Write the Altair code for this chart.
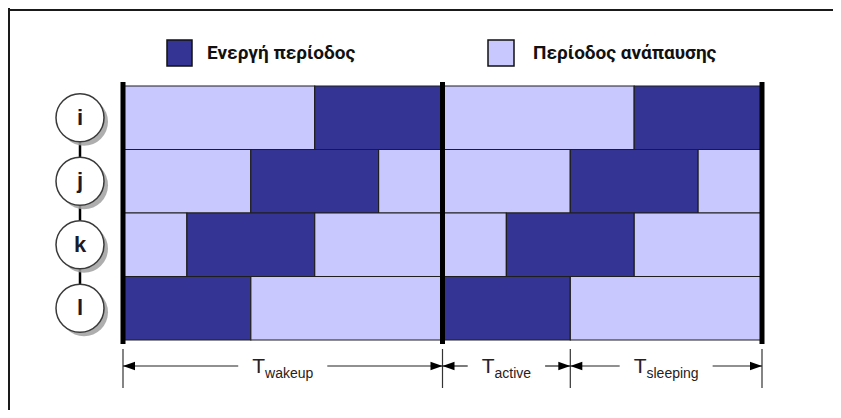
import altair as alt
import pandas as pd

# ---------------- data ----------------
rows = ["i", "j", "k", "l"]
row_states = [["rest", "active"], ["rest", "active", "rest"], ["rest", "active", "rest"], ["active", "rest"]]
row_durations = [[3, 2], [2, 2, 1], [1, 2, 2], [2, 3]]
n_periods = 2
period_len = 5

legend_states = ["active", "rest"]
legend_labels = ["Ενεργή περίοδος", "Περίοδος ανάπαυσης"]

dim_main = ["T", "T", "T"]
dim_sub = ["wakeup", "active", "sleeping"]
dim_bounds = [0, 5, 7, 10]

state_domain = ["active", "rest"]
state_colors = ["#343494", "#c8c8fe"]

# ---------------- layout ----------------
W, H = 825, 402
X_ORIGIN, UX = 115.0, 63.9   # chart px of unit 0, px per unit
Y_ORIGIN, UY = 78.0, 63.5

def ux(page_x):
    return (page_x - 8 - X_ORIGIN) / UX

def uy(page_y):
    return (page_y - 8 - Y_ORIGIN) / UY

x_scale = alt.Scale(domain=[-X_ORIGIN / UX, (W - X_ORIGIN) / UX], nice=False, zero=False)
y_scale = alt.Scale(domain=[-Y_ORIGIN / UY, (H - Y_ORIGIN) / UY], nice=False, zero=False, reverse=True)

def X(f):
    return alt.X(f, type="quantitative", scale=x_scale, axis=None, stack=None)

def X2(f):
    return alt.X2(f)

def Y(f):
    return alt.Y(f, type="quantitative", scale=y_scale, axis=None, stack=None)

def Y2(f):
    return alt.Y2(f)

color = alt.Color("state:N", scale=alt.Scale(domain=state_domain, range=state_colors), legend=None)

# segments
seg = []
for r, (name, sts, durs) in enumerate(zip(rows, row_states, row_durations)):
    for p in range(n_periods):
        t = p * period_len
        for s, d in zip(sts, durs):
            seg.append(dict(node=name, state=s, xa=t, xb=t + d, ya=r, yb=r + 1))
            t += d
seg_df = pd.DataFrame(seg)

segments = alt.Chart(seg_df).mark_rect(stroke="#1e1e1e", strokeWidth=1.2).encode(
    x=X("xa"), x2=X2("xb"), y=Y("ya"), y2=Y2("yb"), color=color
)

# thick separators
sep_df = pd.DataFrame(dict(xp=[p * period_len for p in range(n_periods + 1)],
                           ya=[-4 / UY] * (n_periods + 1),
                           yb=[len(rows) + 4 / UY] * (n_periods + 1)))
seps = alt.Chart(sep_df).mark_rule(color="black", strokeWidth=5).encode(
    x=X("xp"), y=Y("ya"), y2=Y2("yb")
)

# node circles
cx = ux(80)
node_df = pd.DataFrame(dict(name=rows, xp=[cx] * len(rows), yp=[r + 0.5 for r in range(len(rows))]))
node_df["xs"] = node_df["xp"] + 4 / UX
node_df["ys"] = node_df["yp"] + 4 / UY

conn_df = pd.DataFrame(dict(xp=[cx], ya=[0.5], yb=[len(rows) - 0.5]))
connector = alt.Chart(conn_df).mark_rule(color="black", strokeWidth=2.5).encode(
    x=X("xp"), y=Y("ya"), y2=Y2("yb")
)
shadows = alt.Chart(node_df).mark_circle(size=2304, color="#a0a0a0", opacity=0.85).encode(
    x=X("xs"), y=Y("ys")
)
circles = alt.Chart(node_df).mark_circle(size=2304, color="white", opacity=1, stroke="#3a3a3a", strokeWidth=1.5).encode(
    x=X("xp"), y=Y("yp")
)
letters = alt.Chart(node_df).mark_text(font="Liberation Sans", fontWeight="bold", fontSize=22,
                                       color="#1a1a2a", baseline="middle", align="center").encode(
    x=X("xp"), y=Y("yp"), text="name:N"
)

# custom legend
leg_df = pd.DataFrame(dict(
    state=legend_states, label=legend_labels,
    xa=[ux(167), ux(488)], xb=[ux(192), ux(514)],
    tx=[ux(207), ux(533)],
    ya=[uy(40)] * 2, yb=[uy(66)] * 2, ty=[uy(53)] * 2,
))
leg_rects = alt.Chart(leg_df).mark_rect(stroke="#111", strokeWidth=1.5).encode(
    x=X("xa"), x2=X2("xb"), y=Y("ya"), y2=Y2("yb"), color=color
)
leg_text = alt.Chart(leg_df).mark_text(font="Roboto", fontWeight="bold", fontSize=19, color="#111",
                                       align="left", baseline="middle").encode(
    x=X("tx"), y=Y("ty"), text="label:N"
)

# dimension lines
arial = dict(a=.556, c=.5, e=.556, g=.556, i=.222, k=.5, l=.222, n=.556, p=.556, s=.5, t=.278,
             u=.556, v=.5, w=.722, T=.611)
T_SIZE, SUB_SIZE, GAP = 21, 14, 14

tick_df = pd.DataFrame(dict(xp=dim_bounds, ya=[uy(349)] * len(dim_bounds), yb=[uy(388)] * len(dim_bounds)))
ticks = alt.Chart(tick_df).mark_rule(color="#333", strokeWidth=1.2).encode(
    x=X("xp"), y=Y("ya"), y2=Y2("yb")
)

line_rows, lab_rows, arr_l, arr_r = [], [], [], []
yarrow = uy(366)
for m, s, a, b in zip(dim_main, dim_sub, dim_bounds[:-1], dim_bounds[1:]):
    wT = sum(arial.get(ch, .55) for ch in m) * T_SIZE
    wS = sum(arial.get(ch, .55) for ch in s) * SUB_SIZE
    c = (a + b) / 2
    left = c - (wT + wS) / 2 / UX
    right = c + (wT + wS) / 2 / UX
    line_rows.append(dict(xa=a, xb=left - GAP / UX, yp=yarrow))
    line_rows.append(dict(xa=right + GAP / UX, xb=b, yp=yarrow))
    lab_rows.append(dict(main=m, sub=s, xm=left, xs=left + wT / UX, ym=uy(373), ys=uy(378)))
    arr_l.append(dict(xp=a, yp=yarrow))
    arr_r.append(dict(xp=b, yp=yarrow))

dim_lines = alt.Chart(pd.DataFrame(line_rows)).mark_rule(color="#222", strokeWidth=1.2).encode(
    x=X("xa"), x2=X2("xb"), y=Y("yp")
)
arrows_l = alt.Chart(pd.DataFrame(arr_l)).mark_point(
    shape="M0,0 L2,-0.7 L2,0.7 Z", filled=True, color="black", size=144, opacity=1
).encode(x=X("xp"), y=Y("yp"))
arrows_r = alt.Chart(pd.DataFrame(arr_r)).mark_point(
    shape="M0,0 L-2,-0.7 L-2,0.7 Z", filled=True, color="black", size=144, opacity=1
).encode(x=X("xp"), y=Y("yp"))

lab_df = pd.DataFrame(lab_rows)
lab_main = alt.Chart(lab_df).mark_text(font="Liberation Sans", fontSize=T_SIZE, color="#2a2020",
                                       align="left", baseline="alphabetic").encode(
    x=X("xm"), y=Y("ym"), text="main:N"
)
lab_sub = alt.Chart(lab_df).mark_text(font="Liberation Sans", fontSize=SUB_SIZE, color="#2a2020",
                                      align="left", baseline="alphabetic").encode(
    x=X("xs"), y=Y("ys"), text="sub:N"
)

# frame (top and left edges, continuing past the picture)
frame_top = alt.Chart(pd.DataFrame({"d": [0]})).mark_rule(color="#1a1a1a", strokeWidth=2).encode(
    x=alt.value(0), x2=alt.value(W + 20), y=alt.value(2)
)
frame_left = alt.Chart(pd.DataFrame({"d": [0]})).mark_rule(color="#1a1a1a", strokeWidth=2).encode(
    x=alt.value(1), y=alt.value(0), y2=alt.value(H + 20)
)

chart = alt.layer(
    segments, seps, connector, shadows, circles, letters,
    leg_rects, leg_text, ticks, dim_lines, arrows_l, arrows_r, lab_main, lab_sub,
    frame_top, frame_left,
).properties(
    width=W, height=H, autosize=alt.AutoSizeParams(type="none"), padding=0, background="white"
).configure_view(strokeWidth=0, stroke="transparent")

chart.save("out.html", embed_options={"renderer": "svg", "actions": False})
